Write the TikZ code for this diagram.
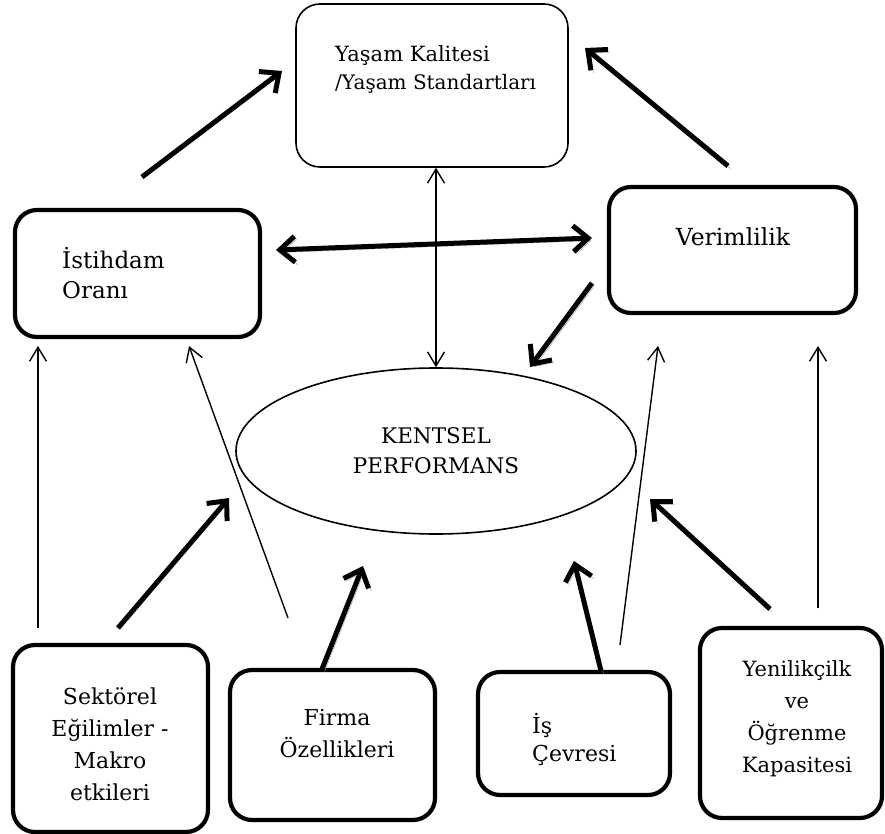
\documentclass[tikz,border=0pt]{standalone}
\usepackage{fontspec}
\setmainfont{DejaVu Serif}
\usetikzlibrary{arrows.meta,shapes.geometric}
\begin{document}
\begin{tikzpicture}[x=1pt,y=-1pt,
  thinbox/.style={draw=black, line width=1.6pt, rounded corners=24pt, inner sep=0pt},
  thickbox/.style={draw=black, line width=4.2pt, rounded corners=22pt, inner sep=0pt},
  lbl/.style={font=\fontsize{22}{32}\selectfont, inner sep=0pt, align=center},
  lbll/.style={lbl, align=left, anchor=west},
  thinarr/.style={line width=1.4pt, -{Straight Barb[length=14pt,width=17pt]}},
  thickarr/.style={line width=5pt, -{Straight Barb[length=15pt,width=27pt]}},
  thickdbl/.style={line width=5pt, {Straight Barb[length=15pt,width=26pt]}-{Straight Barb[length=15pt,width=26pt]}},
  shadowed/.style={preaction={draw=black!40, transform canvas={shift={(2.5pt,-2.5pt)}}}}
]
\useasboundingbox (0,0) rectangle (885,834);
\fill[white] (0,0) rectangle (885,834);

% boxes
\node[thinbox, minimum width=272pt, minimum height=163pt] (yasam) at (432,85.5) {};
\node[thickbox, minimum width=245pt, minimum height=127pt] (istihdam) at (137.5,273.5) {};
\node[thickbox, minimum width=247pt, minimum height=126pt] (verim) at (732.5,250) {};
\node[draw, ellipse, line width=1.6pt, minimum width=400pt, minimum height=166pt, lbl, font=\fontsize{21.5}{30}\selectfont] (kentsel) at (436,451) {KENTSEL\\PERFORMANS};
\node[thickbox, minimum width=195pt, minimum height=187pt] (sektor) at (110.5,738.5) {};
\node[thickbox, minimum width=205pt, minimum height=150pt] (firma) at (332.5,745) {};
\node[thickbox, minimum width=192pt, minimum height=123pt] (is) at (574,733.5) {};
\node[thickbox, minimum width=182pt, minimum height=190pt] (yeni) at (791,723) {};

% texts
\node[lbll, font=\fontsize{21}{28}\selectfont] (yasamT) at (335,69) {Yaşam Kalitesi\\{\fontsize{20}{28}\selectfont /Yaşam Standartları}};
\node[lbll, font=\fontsize{23}{30}\selectfont] (istihdamT) at (62,273) {İstihdam\\Oranı};
\node[lbl, font=\fontsize{23.5}{30}\selectfont] (verimT) at (733,237) {Verimlilik};
\node[lbl] (sektorT) at (110,744) {Sektörel\\Eğilimler -\\Makro\\etkileri};
\node[lbl] (firmaT) at (337,734) {Firma\\Özellikleri};
\node[lbll, font=\fontsize{22}{28}\selectfont] (isT) at (532,739) {İş\\Çevresi};
\node[lbl, font=\fontsize{21}{32}\selectfont] (yeniT) at (797,719) {Yenilikçilk\\ve\\Öğrenme\\Kapasitesi};

% free ends
\coordinate (a1s) at (142,177);  \coordinate (a1e) at (282,71);
\coordinate (a2s) at (728,166);  \coordinate (a2e) at (585,48);
\coordinate (a3l) at (276,250);  \coordinate (a3r) at (592,238);
\coordinate (a5s) at (592,283);  \coordinate (a5e) at (530,367);
\coordinate (a6s) at (38,628);   \coordinate (a6e) at (38,346);
\coordinate (a7s) at (288,618);  \coordinate (a7e) at (189,346);
\coordinate (a8s) at (118,628);  \coordinate (a8e) at (229,498);
\coordinate (a9s) at (322,669);  \coordinate (a9e) at (363,566);
\coordinate (a10s) at (601,671); \coordinate (a10e) at (574,561);
\coordinate (a11s) at (620,645); \coordinate (a11e) at (658,346);
\coordinate (a12s) at (770,609); \coordinate (a12e) at (650,499);
\coordinate (a13s) at (818,608); \coordinate (a13e) at (818,346);

% connectors
\draw[thickarr] (a1s) -- (a1e);
\draw[thickarr, shadowed] (a2s) -- (a2e);
\draw[thickdbl, shadowed] (a3l) -- (a3r);
\draw[line width=1.4pt, {Straight Barb[length=14pt,width=17pt]}-{Straight Barb[length=14pt,width=17pt]}] (kentsel.north |- yasam.south) -- (kentsel.north);
\draw[thickarr, shadowed] (a5s) -- (a5e);
\draw[thinarr] (a6s) -- (a6e);
\draw[thinarr] (a7s) -- (a7e);
\draw[thickarr] (a8s) -- (a8e);
\draw[thickarr, shadowed] (a9s) -- (a9e);
\draw[thickarr, shadowed] (a10s) -- (a10e);
\draw[thinarr] (a11s) -- (a11e);
\draw[thickarr, shadowed] (a12s) -- (a12e);
\draw[thinarr] (a13s) -- (a13e);
\end{tikzpicture}
\end{document}
